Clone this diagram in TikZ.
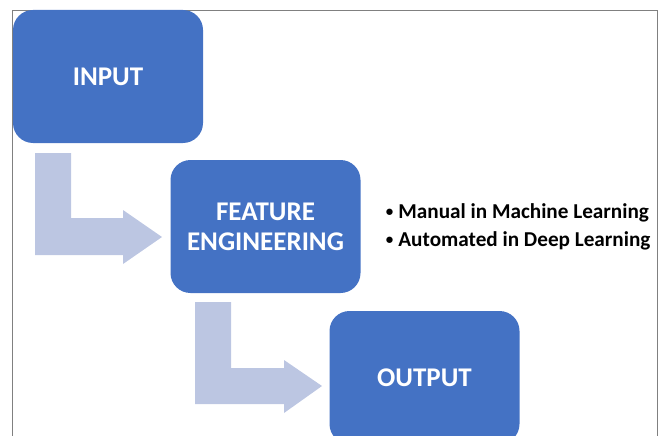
\documentclass[tikz,border=0pt]{standalone}
\usepackage{fontspec}
\setmainfont{Carlito}
\usetikzlibrary{positioning}
\definecolor{boxblue}{HTML}{4472C4}
\definecolor{arrowblue}{HTML}{BCC6E2}
\definecolor{framegray}{HTML}{808080}
\newcommand{\smallbullet}{\raisebox{1.8pt}{\fontsize{15}{15}\selectfont\textbullet}\hspace{5pt}}

\begin{document}
\begin{tikzpicture}[x=1pt, y=-1pt,
    stage/.style={rounded corners=20pt, fill=boxblue, text=white, inner sep=0pt,
      minimum width=190pt, minimum height=133pt, align=center,
      font=\bfseries\fontsize{27}{30}\selectfont},
    bentarrow/.style={fill=arrowblue},
    notes/.style={align=left, inner sep=0pt, font=\bfseries\fontsize{21.2}{28}\selectfont}]
    \useasboundingbox (0,0) rectangle (659,436);
    \clip (0,0) rectangle (659,436);

    % frame
    \draw[framegray] (12.5,450) -- (12.5,10.5) -- (657.5,10.5) -- (657.5,450);

    % bent arrows
    \fill[bentarrow] (35,153) -- (71,153) -- (71,218) -- (123,218) -- (123,210)
      -- (162,237) -- (123,264) -- (123,255) -- (35,255) -- cycle;
    \fill[bentarrow] (195,302) -- (231,302) -- (231,368) -- (284,368) -- (284,360)
      -- (322,386) -- (284,413) -- (284,404) -- (195,404) -- cycle;

    % stages
    \node[stage] (input) at (108,76.5) {INPUT};
    \node[stage] (feature) at (265.5,226.5) {FEATURE\\ENGINEERING};
    \node[stage] (output) at (424.5,377.5) {OUTPUT};

    \node[notes, right=25pt of feature] (remarks)
      {\smallbullet Manual in Machine Learning\\
       \smallbullet Automated in Deep Learning};
\end{tikzpicture}
\end{document}
